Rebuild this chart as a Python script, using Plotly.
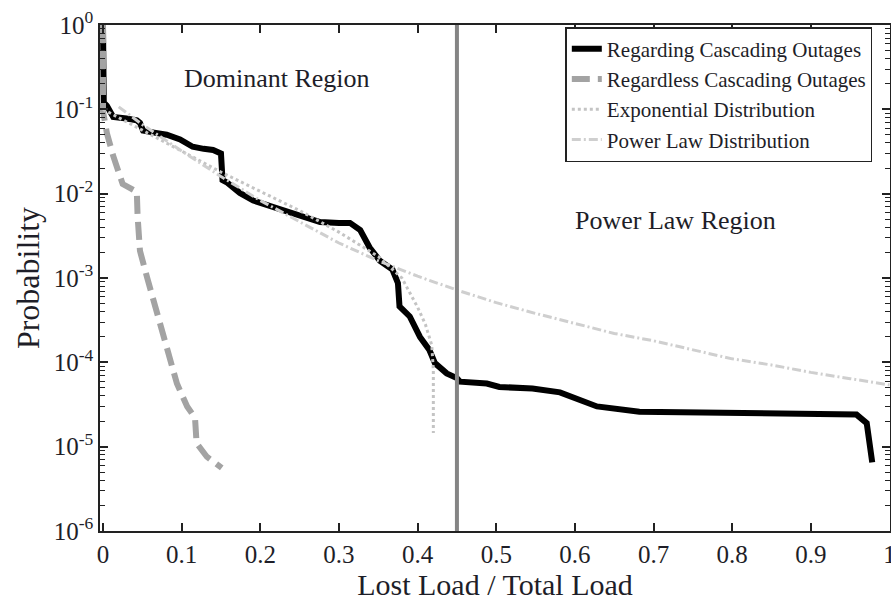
import plotly.graph_objects as go

# ---- data ----
regarding_x = [0, 0.001, 0.005, 0.013, 0.030, 0.043, 0.047, 0.051, 0.065, 0.081, 0.098, 0.114,
               0.128, 0.140, 0.150, 0.152, 0.158, 0.174, 0.191, 0.216, 0.235, 0.250, 0.276,
               0.300, 0.314, 0.327, 0.339, 0.352, 0.368, 0.375, 0.377, 0.390, 0.403, 0.415,
               0.422, 0.437, 0.450, 0.454, 0.488, 0.504, 0.546, 0.581, 0.610, 0.628, 0.682,
               0.800, 0.958, 0.971, 0.978]
regarding_y = [1.0, 0.12, 0.11, 0.081, 0.078, 0.074, 0.069, 0.056, 0.053, 0.050, 0.044, 0.036,
               0.034, 0.033, 0.030, 0.0145, 0.0135, 0.0102, 0.0083, 0.0069, 0.0062, 0.0056,
               0.0046, 0.0045, 0.0045, 0.0037, 0.0023, 0.0016, 0.00126, 0.00087, 0.00046,
               0.00035, 0.0002, 0.00014, 0.000098, 0.000074, 0.000065, 0.000059, 0.000056,
               0.000051, 0.000049, 0.000044, 0.000035, 0.000030, 0.000026, 0.000025,
               0.000024, 0.000019, 0.0000065]

regardless_x = [0, 0, 0.005, 0.013, 0.025, 0.043, 0.044, 0.047, 0.056, 0.064, 0.069, 0.081,
                0.094, 0.107, 0.117, 0.119, 0.132, 0.151]
regardless_y = [1.0, 0.095, 0.052, 0.028, 0.013, 0.0105, 0.0054, 0.0021, 0.00102, 0.00055,
                0.00035, 0.00014, 0.000056, 0.000030, 0.000022, 0.000011, 0.0000076, 0.0000056]

exp_x = [0, 0.05, 0.1, 0.15, 0.2, 0.25, 0.3, 0.35, 0.38, 0.40, 0.41, 0.418, 0.42, 0.42]
exp_y = [0.1, 0.056, 0.032, 0.018, 0.0107, 0.0063, 0.0035, 0.0018, 0.001, 0.00045, 0.00028,
         0.00016, 0.00008, 0.0000145]

pl_x = [0.02, 0.05, 0.1, 0.15, 0.2, 0.25, 0.3, 0.35, 0.4, 0.45, 0.5, 0.55, 0.6, 0.65, 0.7,
        0.75, 0.8, 0.85, 0.9, 0.95, 1.0]
pl_y = [0.107, 0.066, 0.032, 0.016, 0.0083, 0.0046, 0.0026, 0.0016, 0.00105, 0.00072,
        0.00051, 0.00038, 0.00029, 0.00022, 0.00018, 0.00014, 0.00011, 0.000093, 0.000076,
        0.000064, 0.000054]

region_boundary = 0.45

x_ticks = [0, 0.1, 0.2, 0.3, 0.4, 0.5, 0.6, 0.7, 0.8, 0.9, 1.0]
x_ticktext = ["0", "0.1", "0.2", "0.3", "0.4", "0.5", "0.6", "0.7", "0.8", "0.9", "1"]
y_ticks = [1e-6, 1e-5, 1e-4, 1e-3, 1e-2, 1e-1, 1e0]
y_ticktext = ["10<sup>-6</sup>", "10<sup>-5</sup>", "10<sup>-4</sup>", "10<sup>-3</sup>",
              "10<sup>-2</sup>", "10<sup>-1</sup>", "10<sup>0</sup>"]
y_minor_ticks = [m * d for d in y_ticks[:-1] for m in range(2, 10)]

FONT = "Liberation Serif"
TXT = "#1e1e28"

fig = go.Figure()
fig.add_trace(go.Scatter(x=regarding_x, y=regarding_y, mode="lines",
                         name="Regarding Cascading Outages",
                         line=dict(color="#000000", width=6)))
fig.add_trace(go.Scatter(x=regardless_x, y=regardless_y, mode="lines",
                         name="Regardless Cascading Outages",
                         line=dict(color="#a3a3a3", width=6, dash="18px,8px")))
fig.add_trace(go.Scatter(x=exp_x, y=exp_y, mode="lines",
                         name="Exponential Distribution",
                         line=dict(color="#c4c4c4", width=3, dash="3px,3px")))
fig.add_trace(go.Scatter(x=pl_x, y=pl_y, mode="lines",
                         name="Power Law Distribution",
                         line=dict(color="#cfcfcf", width=3, dash="9px,3px,2px,3px")))
# invisible carrier so the minor-tick overlay axis gets drawn
fig.add_trace(go.Scatter(x=regarding_x, y=regarding_y, yaxis="y2", showlegend=False,
                         hoverinfo="skip", mode="lines", opacity=0,
                         line=dict(width=0)))

fig.add_vline(x=region_boundary, line=dict(color="#858585", width=4))

fig.add_annotation(x=0.221, y=-0.63, text="Dominant Region", showarrow=False,
                   font=dict(family=FONT, size=26, color=TXT))
fig.add_annotation(x=0.728, y=-2.32, text="Power Law Region", showarrow=False,
                   font=dict(family=FONT, size=26, color=TXT))

fig.update_layout(
    width=891, height=608,
    margin=dict(l=100, r=1, t=25, b=77, autoexpand=False),
    paper_bgcolor="white", plot_bgcolor="white",
    font=dict(family=FONT, color=TXT),
    showlegend=True,
    legend=dict(x=0.589, y=0.996, xanchor="left", yanchor="top",
                bgcolor="white", bordercolor="#222", borderwidth=1.5,
                font=dict(family=FONT, size=21, color=TXT),
                tracegroupgap=0, itemwidth=30),
    yaxis2=dict(type="log", range=[-6, 0], overlaying="y", side="left",
                tickmode="array", tickvals=y_minor_ticks, ticks="inside",
                ticklen=5, tickwidth=1.2, tickcolor="#222", showticklabels=False,
                showgrid=False, zeroline=False, showline=False, mirror="ticks"),
)
fig.update_xaxes(range=[-0.0038, 1.0006], tickvals=x_ticks, ticktext=x_ticktext,
                 ticks="inside", ticklen=8, tickwidth=1.5, tickcolor="#222",
                 showline=True, linecolor="#222", linewidth=1.5, mirror="ticks",
                 showgrid=False, zeroline=False, ticklabeloverflow="allow",
                 tickfont=dict(family=FONT, size=25, color=TXT),
                 title=dict(text="Lost Load / Total Load", standoff=6,
                            font=dict(family=FONT, size=30, color=TXT)))
fig.layout.yaxis.update(type="log", range=[-6, 0], tickvals=y_ticks, ticktext=y_ticktext,
                        ticks="inside", ticklen=8, tickwidth=1.5, tickcolor="#222",
                        showline=True, linecolor="#222", linewidth=1.5, mirror="ticks",
                        showgrid=False, zeroline=False,
                        tickfont=dict(family=FONT, size=25, color=TXT),
                        title=dict(text="Probability", standoff=4,
                                   font=dict(family=FONT, size=32, color=TXT)))

fig.write_html("out.html")
